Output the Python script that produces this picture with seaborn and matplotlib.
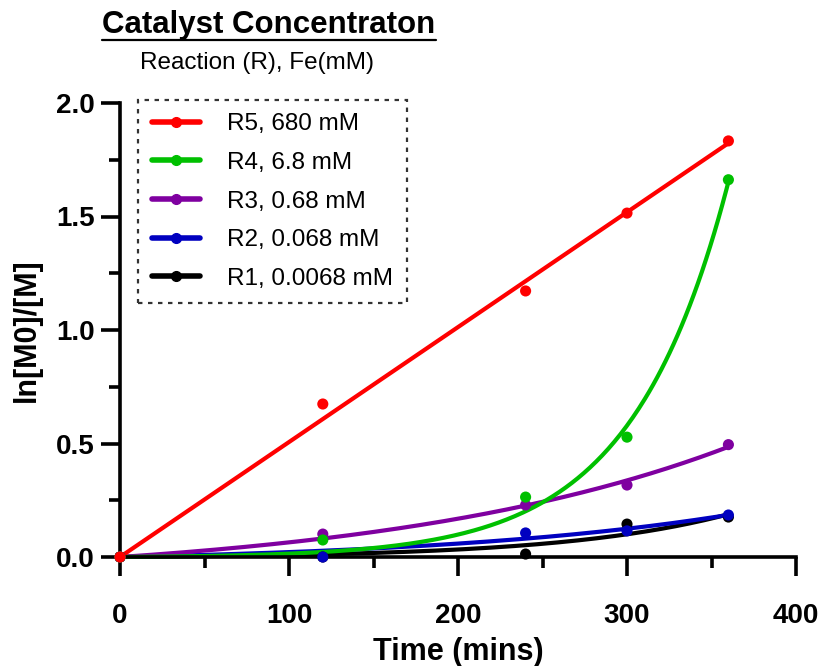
import numpy as np
import pandas as pd
import matplotlib
matplotlib.use("Agg")
import matplotlib.pyplot as plt
from matplotlib.lines import Line2D
from matplotlib.ticker import MultipleLocator
import seaborn as sns

# ---- data ----
time_min = [0, 120, 240, 300, 360]
r5 = [0.0, 0.674, 1.172, 1.515, 1.833]
r4 = [0.0, 0.075, 0.264, 0.528, 1.662]
r3 = [0.0, 0.101, 0.229, 0.317, 0.495]
r2 = [0.0, 0.000, 0.106, 0.115, 0.185]
r1 = [0.0, 0.000, 0.013, 0.145, 0.176]

labels = ["R5, 680 mM", "R4, 6.8 mM", "R3, 0.68 mM", "R2, 0.068 mM", "R1, 0.0068 mM"]
colors = ["#FF0000", "#00C000", "#7F00A0", "#0000C0", "#000000"]
series = [r5, r4, r3, r2, r1]

sns.set_theme(style="white")
plt.rcParams.update({
    "text.color": "black",
    "axes.labelcolor": "black",
    "xtick.color": "black",
    "ytick.color": "black",
})
plt.rcParams["font.family"] = ["Liberation Sans", "DejaVu Sans"]


def fit_exp(x, y):
    """least squares fit of y = A*(exp(k*x) - 1), grid over k"""
    x = np.asarray(x, float)
    y = np.asarray(y, float)
    best = None
    for k in np.linspace(1e-6, 0.03, 3000):
        f = np.expm1(k * x)
        a = (f * y).sum() / (f * f).sum()
        sse = ((a * f - y) ** 2).sum()
        if best is None or sse < best[0]:
            best = (sse, a, k)
    return best[1], best[2]


fig = plt.figure(figsize=(8.22, 6.66), dpi=100)
ax = fig.add_axes([120 / 822, 1 - 557 / 666, 676 / 822, 454 / 666])

xs = np.linspace(0, 360, 300)
# draw R1 first so R5 ends up on top
for lab, col, ys in list(zip(labels, colors, series))[::-1]:
    a, k = fit_exp(time_min, ys)
    fit = pd.DataFrame({"t": xs, "v": a * np.expm1(k * xs)})
    sns.lineplot(data=fit, x="t", y="v", color=col, lw=3.0, ax=ax,
                 clip_on=False, solid_capstyle="butt")
    pts = pd.DataFrame({"t": time_min, "v": ys})
    sns.scatterplot(data=pts, x="t", y="v", color=col, s=64, edgecolor="none",
                    ax=ax, clip_on=False, zorder=3)

ax.set_xlim(0, 400)
ax.set_ylim(0, 2.0)
ax.xaxis.set_major_locator(MultipleLocator(100))
ax.xaxis.set_minor_locator(MultipleLocator(50))
ax.yaxis.set_major_locator(MultipleLocator(0.5))
ax.yaxis.set_minor_locator(MultipleLocator(0.25))
ax.yaxis.set_major_formatter(matplotlib.ticker.FormatStrFormatter("%.1f"))

for s in ["top", "right"]:
    ax.spines[s].set_visible(False)
for s in ["left", "bottom"]:
    ax.spines[s].set_linewidth(2.6)
    ax.spines[s].set_color("black")

ax.tick_params(which="major", direction="out", length=14, width=2.6,
               color="black", labelsize=20)
ax.tick_params(which="minor", direction="out", length=8, width=2.6, color="black")
ax.tick_params(axis="x", which="major", pad=19, bottom=True)
ax.tick_params(axis="x", which="minor", bottom=True)
ax.tick_params(axis="y", which="both", left=True)
ax.tick_params(axis="y", which="major", pad=4)
for t in ax.get_xticklabels() + ax.get_yticklabels():
    t.set_fontweight("bold")

ax.set_xlabel("Time (mins)", fontsize=22, fontweight="bold", labelpad=6)
ax.set_ylabel("ln[M0]/[M]", fontsize=22, fontweight="bold", labelpad=10)

handles = [Line2D([], [], color=c, lw=4, marker="o", markersize=7) for c in colors]
leg = ax.legend(handles, labels, loc="upper left", bbox_to_anchor=(0.027, 1.007),
                borderaxespad=0, fontsize=17.5, frameon=True, fancybox=False,
                handlelength=2.0, handletextpad=1.1, labelspacing=0.68,
                borderpad=0.56)
frame = leg.get_frame()
frame.set_edgecolor("black")
frame.set_linewidth(1.6)
frame.set_linestyle((0, (2, 2.5)))
frame.set_facecolor("white")

title = fig.text(269 / 822, 1 - 25 / 666, "Catalyst Concentraton", ha="center",
                 va="center", fontsize=22.5, fontweight="bold")
fig.text(257 / 822, 1 - 63 / 666, "Reaction (R), Fe(mM)", ha="center",
         va="center", fontsize=17.5)

# underline the title
fig.canvas.draw()
bb = title.get_window_extent().transformed(fig.transFigure.inverted())
fig.add_artist(Line2D([bb.x0, bb.x1], [1 - 40 / 666, 1 - 40 / 666],
                      transform=fig.transFigure, color="black", lw=1.6))

fig.savefig("out.png", dpi=100)
